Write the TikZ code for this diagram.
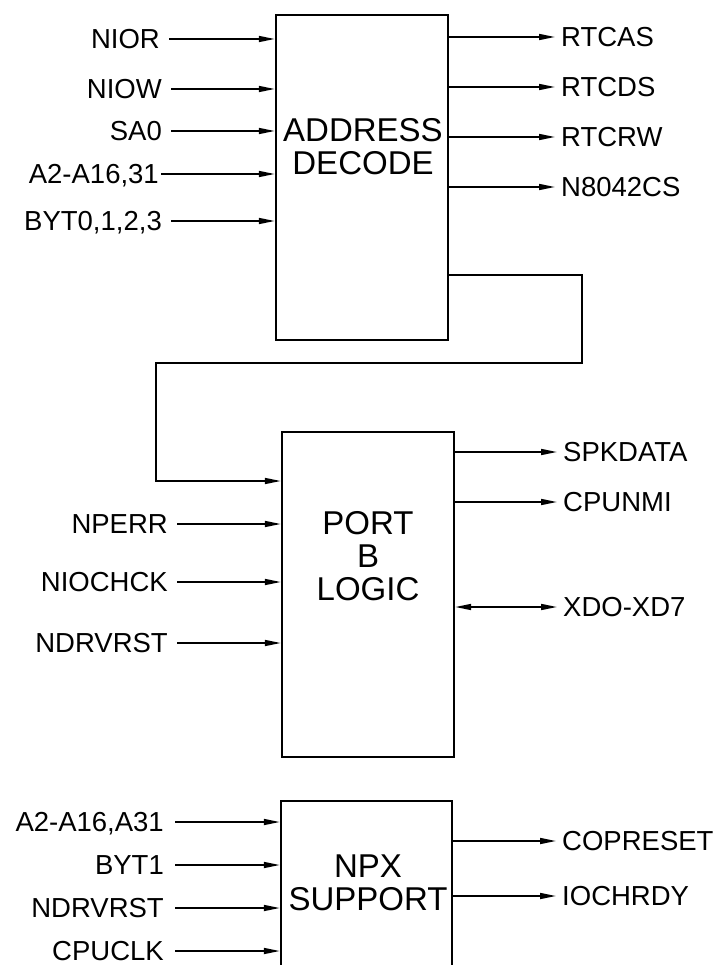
\documentclass[tikz,border=0pt]{standalone}
\usepackage{fontspec}
\setmainfont{Liberation Sans}
\usetikzlibrary{arrows.meta}
\tikzset{
  blk/.style={draw, line width=2.4pt, inner sep=0pt},
  blktext/.style={font={\fontsize{33}{33}\selectfont}, align=center, inner sep=0pt},
  lab/.style={font={\fontsize{27.5}{28}\selectfont}, text height=19.5pt, text depth=0pt, inner ysep=0pt},
  inl/.style={lab, anchor=east, inner xsep=9pt},
  outl/.style={lab, anchor=west, inner xsep=6pt},
  tip/.tip={Triangle[length=16pt 0 0,width=6pt 0 0]},
  conn/.style={line width=1.6pt, -tip},
  both/.style={line width=1.6pt, tip-tip}
}
\begin{document}
\begin{tikzpicture}[x=1pt,y=-1pt]
\useasboundingbox (0,0) rectangle (726,965);
\clip (0,0) rectangle (726,965);
% blocks
\node[blk, minimum width=172pt, minimum height=325pt] (b1) at (362,177.5) {};
\node[blktext] (t1) at (363,147) {ADDRESS\\DECODE};
\node[blk, minimum width=172pt, minimum height=325pt] (b2) at (368,594.5) {};
\node[blktext] (t2) at (368,556) {PORT\\B\\LOGIC};
\node[blk, minimum width=171pt, minimum height=220pt] (b3) at (366.5,911) {};
\node[blktext] (t3) at (368,883) {NPX\\SUPPORT};
% address decode inputs
\node[inl] (i1) at (169,39) {NIOR};
\node[inl] (i2) at (171,89) {NIOW};
\node[inl] (i3) at (171,131) {SA0};
\node[inl, inner xsep=2pt] (i4) at (161,174) {A2-A16,31};
\node[inl] (i5) at (171,221) {BYT0,1,2,3};
\foreach \n in {i1,i2,i3,i4,i5} \draw[conn] (\n.east) -- (\n.east -| b1.west);
% address decode outputs
\node[outl] (o1) at (555,37) {RTCAS};
\node[outl] (o2) at (555,87) {RTCDS};
\node[outl] (o3) at (555,137) {RTCRW};
\node[outl] (o4) at (555,187) {N8042CS};
\foreach \n in {o1,o2,o3,o4} \draw[conn] (\n.west -| b1.east) -- (\n.west);
% loop connector
\coordinate (c0) at (582,275);
\coordinate (c1) at (582,363);
\coordinate (c2) at (156,363);
\coordinate (c3) at (156,481);
\draw[conn] (b1.east |- c0) -- (c0) -- (c1) -- (c2) -- (c3) -- (c3 -| b2.west);
% port b inputs
\node[inl] (p1) at (177,524) {NPERR};
\node[inl] (p2) at (177,582) {NIOCHCK};
\node[inl] (p3) at (177,643) {NDRVRST};
\foreach \n in {p1,p2,p3} \draw[conn] (\n.east) -- (\n.east -| b2.west);
% port b outputs
\node[outl] (q1) at (557,452) {SPKDATA};
\node[outl] (q2) at (557,502) {CPUNMI};
\node[outl] (q3) at (557,607) {XDO-XD7};
\draw[conn] (q1.west -| b2.east) -- (q1.west);
\draw[conn] (q2.west -| b2.east) -- (q2.west);
\draw[both] (q3.west -| b2.east) -- (q3.west);
% npx inputs
\node[inl, inner xsep=11pt] (n1) at (175,822) {A2-A16,A31};
\node[inl, inner xsep=11pt] (n2) at (175,865) {BYT1};
\node[inl, inner xsep=11pt] (n3) at (175,908) {NDRVRST};
\node[inl, inner xsep=11pt] (n4) at (175,951) {CPUCLK};
\foreach \n in {n1,n2,n3,n4} \draw[conn] (\n.east) -- (\n.east -| b3.west);
% npx outputs
\node[outl] (r1) at (556,841) {COPRESET};
\node[outl] (r2) at (556,896) {IOCHRDY};
\draw[conn] (r1.west -| b3.east) -- (r1.west);
\draw[conn] (r2.west -| b3.east) -- (r2.west);
\end{tikzpicture}
\end{document}
